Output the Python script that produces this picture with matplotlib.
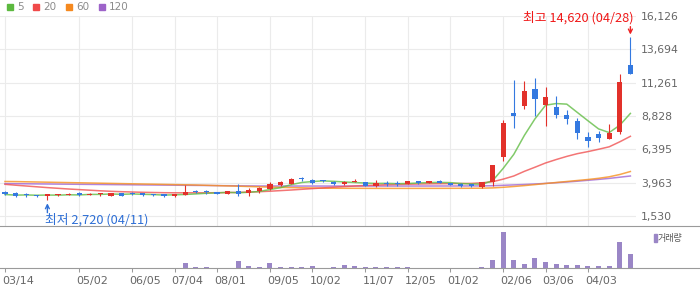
import matplotlib.pyplot as plt
import matplotlib.transforms as mtransforms
from matplotlib.patches import Rectangle
from matplotlib.lines import Line2D
import numpy as np
import pandas as pd

# weekly candles (open, high, low, close)
opens = [3282, 3180, 3110, 3000, 2990, 3030, 3070, 3230, 3040, 3120,
         2990, 3190, 3190, 3200, 3140, 3100, 2990, 3060, 3270, 3290,
         3280, 3130, 3350, 3200, 3350, 3520, 3770, 3890, 4240, 4180,
         4100, 4030, 3900, 3980, 3990, 3720, 3920, 3910, 3870, 4080,
         3960, 4080, 3910, 3880, 3840, 3660, 3990, 5860, 9070, 9580,
         10800, 9630, 9507, 8920, 8463, 7270, 7510, 7150, 7680, 12550]
highs = [3350, 3280, 3240, 3060, 3150, 3110, 3210, 3250, 3180, 3190,
         3240, 3210, 3260, 3230, 3170, 3120, 3140, 3790, 3440, 3420,
         3300, 3350, 3860, 3560, 3640, 4010, 4080, 4300, 4380, 4250,
         4160, 4110, 4080, 4230, 4000, 4160, 4050, 4050, 4100, 4100,
         4100, 4150, 3940, 3930, 3900, 4020, 5280, 8536, 11455, 11380,
         11623, 10945, 10290, 9265, 8660, 7660, 7730, 8245, 11890, 14620]
lows = [3060, 2940, 2920, 2920, 2720, 2980, 3040, 3020, 3030, 3000,
        2960, 3000, 3040, 3020, 3010, 2920, 2950, 3040, 3230, 3140,
        3140, 3110, 3000, 3000, 3210, 3440, 3720, 3860, 4080, 3880,
        4010, 3790, 3790, 3980, 3710, 3650, 3720, 3720, 3850, 3880,
        3920, 3940, 3780, 3680, 3680, 3580, 3740, 5570, 7970, 9360,
        8850, 8120, 8700, 8266, 7150, 6590, 6930, 7150, 7490, 11900]
closes = [3100, 3010, 3090, 2980, 3120, 3050, 3150, 3040, 3160, 3140,
          3200, 3020, 3170, 3040, 3040, 3020, 3120, 3280, 3250, 3270,
          3160, 3330, 3130, 3420, 3570, 3860, 4010, 4230, 4210, 3920,
          4080, 3860, 4010, 4000, 3720, 3940, 3900, 3890, 4060, 3910,
          4080, 3970, 3810, 3740, 3720, 4010, 5250, 8310, 8850, 10650,
          10050, 10215, 8920, 8630, 7610, 7020, 7245, 7590, 11310, 11915]
volumes = [25, 20, 22, 30, 28, 20, 18, 25, 22, 20,
           24, 18, 20, 22, 19, 21, 26, 500, 110, 100,
           30, 28, 700, 200, 110, 520, 110, 100, 110, 190,
           35, 110, 310, 200, 110, 100, 110, 100, 110, 30,
           28, 25, 30, 32, 35, 110, 800, 3600, 820, 400,
           1020, 600, 420, 320, 300, 220, 200, 220, 2620, 1420]

# longer moving averages
ma20 = [3843, 3778, 3719, 3661, 3602, 3551, 3500, 3456, 3412, 3369,
        3332, 3303, 3281, 3259, 3245, 3230, 3223, 3223, 3223, 3223,
        3230, 3237, 3252, 3274, 3303, 3339, 3383, 3427, 3478, 3529,
        3580, 3631, 3675, 3719, 3755, 3784, 3814, 3835, 3850, 3864,
        3879, 3887, 3894, 3901, 3909, 3953, 4030, 4220, 4450, 4790,
        5090, 5400, 5650, 5880, 6080, 6230, 6400, 6580, 6945, 7345]
ma60 = [4048, 4041, 4026, 4011, 3997, 3982, 3967, 3953, 3938, 3924,
        3909, 3894, 3880, 3865, 3851, 3836, 3821, 3807, 3792, 3770,
        3748, 3726, 3705, 3683, 3661, 3639, 3617, 3602, 3588, 3573,
        3558, 3555, 3552, 3550, 3548, 3546, 3545, 3545, 3545, 3546,
        3547, 3548, 3550, 3552, 3555, 3560, 3580, 3624, 3683, 3748,
        3821, 3902, 3975, 4048, 4121, 4194, 4281, 4391, 4558, 4777]
ma120 = [3894, 3887, 3880, 3872, 3865, 3858, 3851, 3843, 3836, 3829,
         3821, 3814, 3807, 3799, 3792, 3785, 3778, 3770, 3763, 3756,
         3748, 3741, 3734, 3726, 3720, 3719, 3718, 3717, 3716, 3716,
         3715, 3715, 3715, 3715, 3715, 3715, 3716, 3716, 3717, 3717,
         3718, 3719, 3720, 3721, 3723, 3726, 3741, 3770, 3799, 3829,
         3865, 3909, 3960, 4011, 4070, 4136, 4201, 4274, 4362, 4449]

tick_pos = [0, 7, 12, 16, 20, 25, 29, 34, 38, 42, 47, 51, 55]
tick_labels = ['03/14', '05/02', '06/05', '07/04', '08/01', '09/05', '10/02',
               '11/07', '12/05', '01/02', '02/06', '03/06', '04/03']
price_ticks = [1530, 3963, 6395, 8828, 11261, 13694, 16126]

RED = '#e2312a'
BLUE = '#3479e0'
KR = ['Noto Sans CJK KR', 'DejaVu Sans']

W, H = 700, 289
fig = plt.figure(figsize=(7, 2.89), dpi=100)


def fy(py):
    return 1 - py / H


ax = fig.add_axes([0, fy(226), 636 / W, 210 / H])
axv = fig.add_axes([0, fy(268), 636 / W, 42 / H], sharex=ax)

idx = np.arange(len(closes))
o = np.array(opens)
c = np.array(closes)
up = c >= o
colors = np.where(up, RED, BLUE)

ma5 = pd.Series(closes).rolling(5, min_periods=1).mean()
for vals, col in [(ma120, '#a066d3'), (ma60, '#f7901e'), (ma20, '#f05252'), (ma5, '#62bd45')]:
    ax.plot(idx, vals, color=col, lw=1.1, alpha=0.8, zorder=2)

ax.vlines(idx, lows, highs, colors=colors, lw=0.8, zorder=3)
body_lo = np.minimum(o, c)
body_h = np.maximum(np.abs(c - o), 70)
ax.bar(idx, body_h, bottom=body_lo, width=0.5, color=colors, zorder=4)

ax.set_xlim(-0.47, 59.53)
ax.set_ylim(800, 16126)
ax.set_yticks(price_ticks)
ax.set_yticklabels([f'{v:,}' for v in price_ticks])
ax.yaxis.tick_right()
ax.tick_params(axis='y', length=0, pad=3.6, labelsize=7.8, labelcolor='#666666')
ax.tick_params(axis='x', length=0, labelbottom=False)
ax.grid(True, color='#ebebeb', lw=0.8)
ax.set_axisbelow(True)
for s in ax.spines.values():
    s.set_visible(False)

# high / low markers
hi = int(np.argmax(highs))
lo = int(np.argmin(lows))
ax.annotate('', xy=(hi, highs[hi]), xytext=(0, 10), textcoords='offset pixels',
            arrowprops=dict(arrowstyle='->', color='#ee2222', lw=1, shrinkA=0, shrinkB=1.5,
                            mutation_scale=7))
ax.annotate(f'최고 {highs[hi]:,} (04/28)', xy=(hi, highs[hi]), xytext=(3, 18.6),
            textcoords='offset pixels', ha='right', va='center', color='#f01818',
            fontsize=9.2, family=KR, annotation_clip=False)
ax.annotate('', xy=(lo, lows[lo]), xytext=(0, -13), textcoords='offset pixels',
            arrowprops=dict(arrowstyle='->', color='#2e6fd6', lw=1, shrinkA=0, shrinkB=2.6,
                            mutation_scale=7))
ax.annotate(f'최저 {lows[lo]:,} (04/11)', xy=(lo, lows[lo]), xytext=(-2.4, -19.7),
            textcoords='offset pixels', ha='left', va='center', color='#2e6fd6',
            fontsize=9.2, family=KR)

# volume
axv.bar(idx, volumes, width=0.47, color='#9a86c6')
axv.set_ylim(0, 4200)
axv.set_yticks([])
axv.set_xticks(tick_pos)
axv.set_xticklabels(tick_labels)
axv.tick_params(axis='x', length=3, width=0.75, color='#9a9a9a', pad=2.5,
                labelsize=8, labelcolor='#666666')
for s in axv.spines.values():
    s.set_visible(False)
shift = mtransforms.ScaledTranslation(-3 / 100, 0, fig.dpi_scale_trans)
for lab in axv.get_xticklabels():
    lab.set_horizontalalignment('left')
    lab.set_transform(lab.get_transform() + shift)

# panel separators across the full width
for py in (226, 268):
    fig.add_artist(Line2D([0, 1], [fy(py), fy(py)], color='#9a9a9a', lw=0.8,
                          transform=fig.transFigure))

# legend
legend = [('5', '#5cb93f', 7, 17), ('20', '#f04a4a', 33, 43),
          ('60', '#f5891f', 66, 76), ('120', '#9d63c9', 99, 109)]
for txt, col, sx, tx in legend:
    fig.patches.append(Rectangle((sx / W, fy(9.5)), 6 / W, 6 / H, color=col,
                                 transform=fig.transFigure))
    fig.text(tx / W, fy(6.5), txt, fontsize=7.5, color='#8c8c8c', va='center')

fig.patches.append(Rectangle((654 / W, fy(242)), 3 / W, 8 / H, color='#9a86c6',
                             transform=fig.transFigure))
fig.text(658 / W, fy(238), '거래량', fontsize=6.5, color='#555555', va='center', family=KR)

fig.savefig('out.png', dpi=100)
